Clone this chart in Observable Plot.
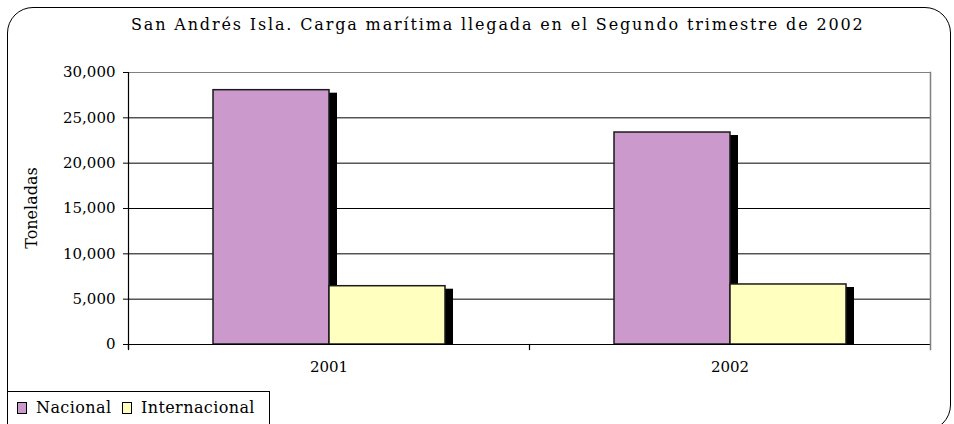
<!DOCTYPE html>
<html>
<head>
<meta charset="utf-8">
<script src="https://cdn.jsdelivr.net/npm/d3@7"></script>
<script src="https://cdn.jsdelivr.net/npm/@observablehq/plot@0.6"></script>
<style>
  html, body { margin: 0; padding: 0; background: #fff; overflow: hidden; }
  #wrap { position: relative; width: 954px; height: 424px; overflow: hidden; font-family: "DejaVu Serif", serif; }
  #border { position: absolute; left: 7px; top: 7px; width: 944px; height: 424px; border: 1.5px solid #000; border-radius: 26px; box-sizing: border-box; pointer-events: none; }
  #title { position: absolute; left: 131px; top: 15px; font-size: 16px; letter-spacing: 1.85px; white-space: nowrap; color: #000; }
  #ylabel { position: absolute; left: 31px; top: 208px; font-size: 16px; white-space: nowrap; transform: translate(-50%, -50%) rotate(-90deg); }
  #legend { position: absolute; left: 7px; top: 391px; width: 263px; height: 60px; border: 1px solid #000; box-sizing: border-box; background: #fff; font-size: 16px; letter-spacing: 0.4px; }
  .item { position: absolute; top: 6px; white-space: nowrap; }
  .sw { display: inline-block; width: 8px; height: 10px; border: 1.5px solid #000; vertical-align: -1px; margin-right: 9px; }
  svg { position: absolute; left: 0; top: 0; }
</style>
</head>
<body>
<div id="wrap">
  <div id="chart"></div>
  <div id="border"></div>
  <div id="title"></div>
  <div id="ylabel"></div>
  <div id="legend"></div>
</div>
<script>
const titleText = "San Andrés Isla. Carga marítima llegada en el Segundo trimestre de 2002";
const yLabel = "Toneladas";
const years = ["2001", "2002"];
const series = ["Nacional", "Internacional"];
const nacional = [28050, 23380];
const internacional = [6430, 6620];
const yTicks = [0, 5000, 10000, 15000, 20000, 25000, 30000];
const colors = ["#cc99cc", "#ffffc0"];

const rows = [];
years.forEach((yr, i) => {
  rows.push({year: yr, series: "Nacional", value: nacional[i]});
  rows.push({year: yr, series: "Internacional", value: internacional[i]});
});

const gridTicks = yTicks.filter(t => t > 0 && t < 30000);

const chart = Plot.plot({
  width: 954,
  height: 424,
  marginLeft: 128,
  marginRight: 24,
  marginTop: 72,
  marginBottom: 80,
  style: {fontFamily: "DejaVu Serif, serif", fontSize: "15px", color: "#000", background: "transparent"},
  fx: {domain: years, padding: 0},
  x: {domain: series, paddingInner: 0, paddingOuter: 0.728, axis: null},
  y: {domain: [0, 30000]},
  color: {domain: series, range: colors},
  marks: [
    Plot.ruleY(gridTicks, {stroke: "#000", strokeWidth: 1}),
    Plot.ruleY([30000], {stroke: "#808080", strokeWidth: 1.2}),
    Plot.barY(rows, {fx: "year", x: "series", y: "value", fill: "#000", dx: 8, dy: 3, insetBottom: 2}),
    Plot.barY(rows, {fx: "year", x: "series", y: "value", fill: "series", stroke: "#1a1a1a", strokeWidth: 1.5}),
    Plot.ruleY([0], {stroke: "#000", strokeWidth: 1.2}),
    Plot.frame({anchor: "left", facetAnchor: "left", stroke: "#000", strokeWidth: 1.2, insetBottom: -4}),
    Plot.frame({anchor: "left", stroke: "#000", strokeWidth: 1.2, insetTop: 272, insetBottom: -5}),
    Plot.frame({anchor: "right", facetAnchor: "right", stroke: "#808080", strokeWidth: 1.5, insetBottom: -5}),
    Plot.axisY({ticks: yTicks, tickFormat: d3.format(","), tickSize: 5, tickPadding: 8,
      label: null, fontSize: 15}),
    Plot.axisFx({anchor: "bottom", tickSize: 0, tickPadding: 17, label: null, fontSize: 15})
  ]
});
document.getElementById("chart").appendChild(chart);
document.getElementById("title").textContent = titleText;
document.getElementById("ylabel").textContent = yLabel;

const legend = document.getElementById("legend");
const lx = [9, 114];
series.forEach((s, i) => {
  const it = document.createElement("div");
  it.className = "item";
  it.style.left = lx[i] + "px";
  const sw = document.createElement("span");
  sw.className = "sw";
  sw.style.background = colors[i];
  it.appendChild(sw);
  it.appendChild(document.createTextNode(s));
  legend.appendChild(it);
});
</script>
</body>
</html>
